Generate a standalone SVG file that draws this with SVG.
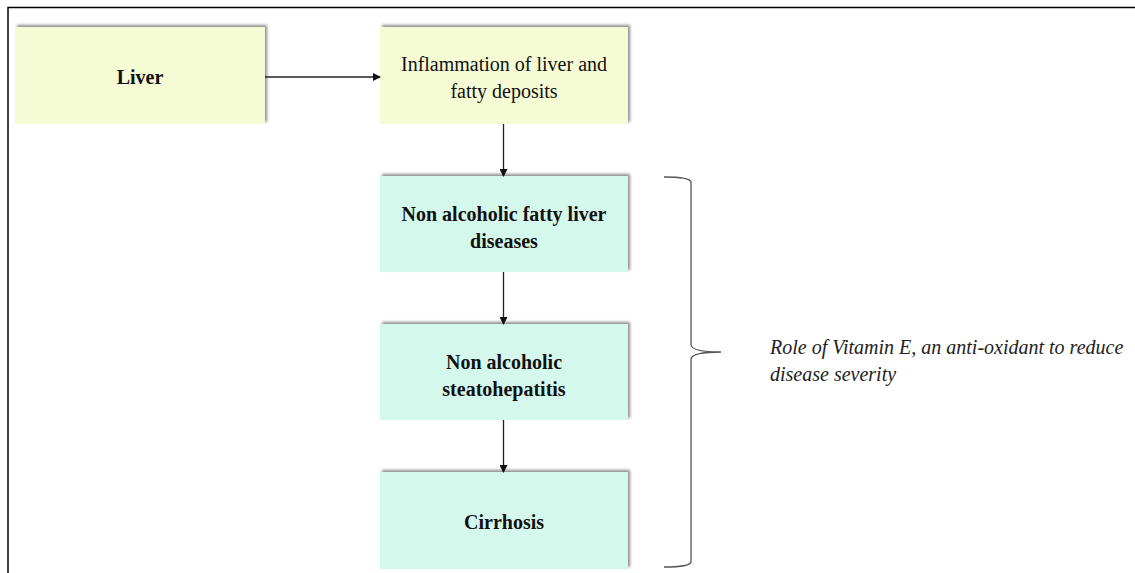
<svg xmlns="http://www.w3.org/2000/svg" width="1135" height="573" viewBox="0 0 1135 573">
<style>
.y{fill:#f5fbd5}
.t{fill:#d5f8ec}
.b{font-family:'Liberation Serif','Times New Roman',serif;font-size:20px;font-weight:bold;fill:#111;text-anchor:middle}
.n{font-family:'Liberation Serif','Times New Roman',serif;font-size:20px;fill:#111;text-anchor:middle}
.i{font-family:'Liberation Serif','Times New Roman',serif;font-size:20px;font-style:italic;fill:#222}
.c{stroke:#222;stroke-width:1.3;fill:none}
</style>
<defs>
<filter id="sh" x="-5%" y="-10%" width="110%" height="120%">
<feDropShadow dx="2" dy="-2" stdDeviation="1.5" flood-color="#000" flood-opacity="0.45"/>
</filter>
<marker id="ah" markerWidth="8" markerHeight="8" refX="7" refY="4" orient="auto" markerUnits="userSpaceOnUse">
<path d="M0,0 L8,4 L0,8 z" fill="#111"/>
</marker>
</defs>
<rect width="1135" height="573" fill="#fff"/>
<path d="M8,573 V7.5 H1135" stroke="#000" stroke-width="1.5" fill="none"/>
<g id="liver">
<rect x="15" y="27" width="250" height="97" class="y" filter="url(#sh)"/>
<text x="140" y="84" class="b">Liver</text>
</g>
<g id="inflammation">
<rect x="380" y="27" width="248" height="97" class="y" filter="url(#sh)"/>
<text x="504" y="71" class="n">Inflammation of liver and</text>
<text x="504" y="98" class="n">fatty deposits</text>
</g>
<g id="nafld">
<rect x="380" y="176" width="248" height="96" class="t" filter="url(#sh)"/>
<text x="504" y="221" class="b">Non alcoholic fatty liver</text>
<text x="504" y="248" class="b">diseases</text>
</g>
<g id="nash">
<rect x="380" y="324" width="248" height="96" class="t" filter="url(#sh)"/>
<text x="504" y="369" class="b">Non alcoholic</text>
<text x="504" y="396" class="b">steatohepatitis</text>
</g>
<g id="cirrhosis">
<rect x="380" y="472" width="248" height="97" class="t" filter="url(#sh)"/>
<text x="504" y="529" class="b">Cirrhosis</text>
</g>
<g id="connectors">
<line x1="265" y1="77" x2="380" y2="77" class="c" marker-end="url(#ah)"/>
<line x1="503.5" y1="124" x2="503.5" y2="176" class="c" marker-end="url(#ah)"/>
<line x1="503.5" y1="272" x2="503.5" y2="324" class="c" marker-end="url(#ah)"/>
<line x1="503.5" y1="420" x2="503.5" y2="472" class="c" marker-end="url(#ah)"/>
</g>
<g id="brace">
<path d="M664,177 Q690,177 691,182 V345 Q692,352 721,352 Q692,352 691,359 V562 Q690,567 664,567" stroke="#555" stroke-width="1.3" fill="none"/>
</g>
<g id="note">
<text x="770" y="354" class="i">Role of Vitamin E, an anti-oxidant to reduce</text>
<text x="770" y="381" class="i">disease severity</text>
</g>
</svg>
